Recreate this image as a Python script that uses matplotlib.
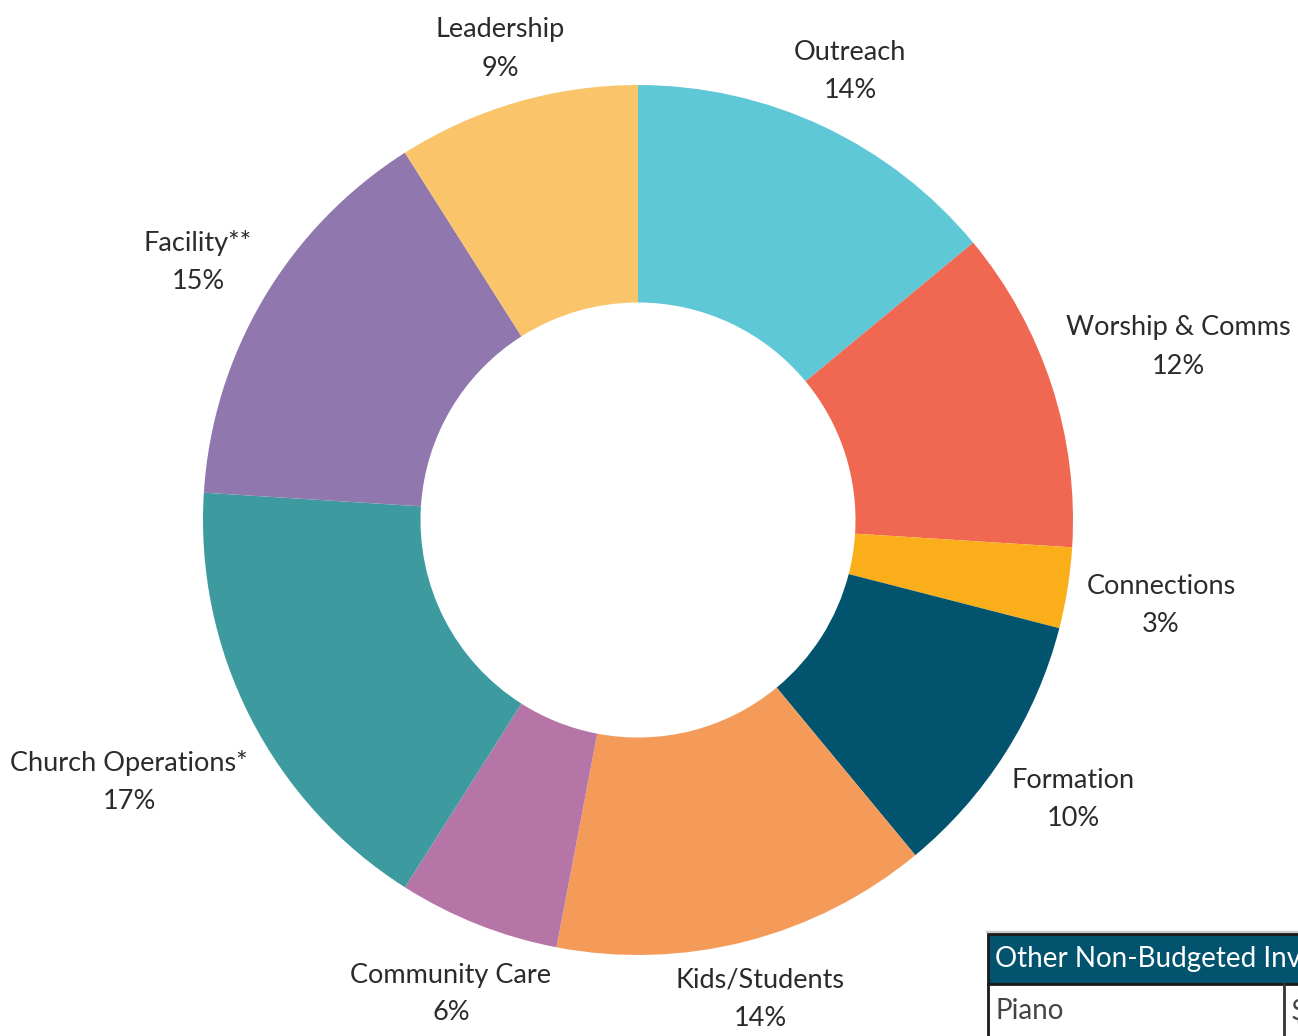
import matplotlib
matplotlib.use("Agg")
import matplotlib.pyplot as plt
from matplotlib.patches import Rectangle

categories = ["Outreach", "Worship & Comms", "Connections", "Formation",
              "Kids/Students", "Community Care", "Church Operations*",
              "Facility**", "Leadership"]
values = [14, 12, 3, 10, 14, 6, 17, 15, 9]
colors = ["#5EC8D6", "#F06752", "#FAAF1A", "#02546E", "#F59B5A",
          "#B576A7", "#3D9BA0", "#9077AD", "#F9C46A"]
pct_labels = [f"{v}%" for v in values]

table_header = "Other Non-Budgeted Investments"
table_rows = [("Piano", "$")]

W, H = 1298, 1036
plt.rcParams['font.family'] = ['Lato', 'DejaVu Sans']
fig = plt.figure(figsize=(W / 100, H / 100), dpi=100)
ax = fig.add_axes([0, 0, 1, 1])
ax.set_xlim(0, W)
ax.set_ylim(0, H)
ax.axis('off')

cx, cy, R = 638, H - 520, 435
ax.pie(values, colors=colors, startangle=90, counterclock=False,
       center=(cx, cy), radius=R,
       wedgeprops=dict(width=R * 0.5, edgecolor='none', linewidth=0))
ax.set_xlim(0, W)
ax.set_ylim(0, H)
ax.set_aspect('auto')

label_pos = [(850, 72), (1178, 347), (1161, 605), (1073, 799), (760, 999),
             (451, 994), (129, 782), (198, 262), (500, 49)]
for name, pct, (x, y) in zip(categories, pct_labels, label_pos):
    ax.text(x, H - y, f"{name}\n{pct}", ha='center', va='center',
            fontsize=19.5, fontweight='normal', color='#2b2b2b', linespacing=1.65)

# table
x0 = 988
ax.add_patch(Rectangle((x0 - 2, H - 932), W, 1.5, color='#cccccc', clip_on=False))
ax.add_patch(Rectangle((x0, H - 984), W - x0 + 20, 50, facecolor='#02546E',
                       edgecolor='#1a1a1a', linewidth=2))
ax.add_patch(Rectangle((x0, H - 1040), W - x0 + 20, 56, facecolor='white',
                       edgecolor='#1a1a1a', linewidth=2))
ax.plot([1284, 1284], [H - 984, 0], color='#333333', linewidth=2)
ax.text(x0 + 7, H - 959, table_header, ha='left', va='center', fontsize=20,
        fontweight='normal', color='white')
for label, val in table_rows:
    ax.text(x0 + 7, H - 1011, label, ha='left', va='center', fontsize=20,
            fontweight='normal', color='#444444')
    ax.text(1291, H - 1011, val, ha='left', va='center', fontsize=20,
            fontweight='normal', color='#444444')

fig.savefig("out.png", dpi=100)
